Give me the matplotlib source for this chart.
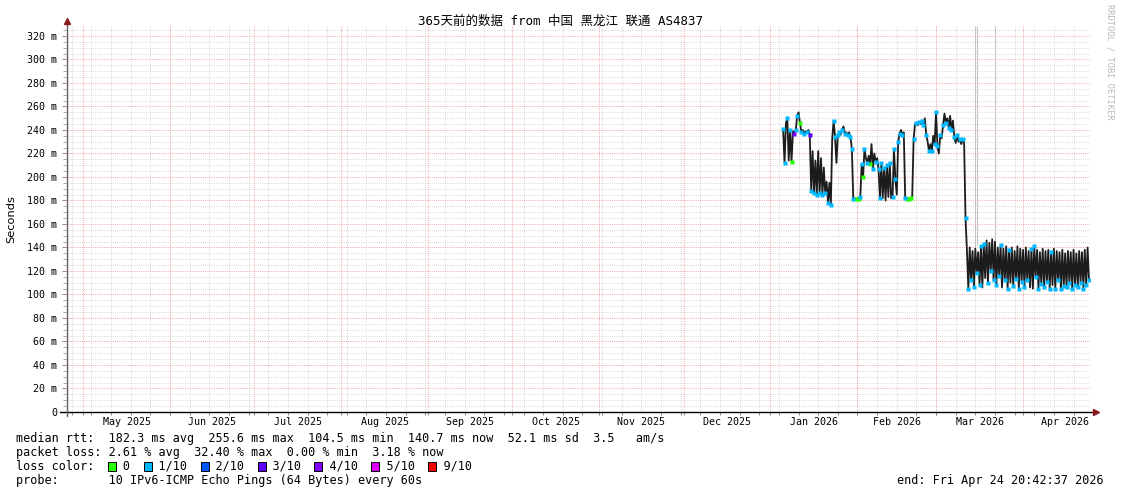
import matplotlib
matplotlib.use("Agg")
import numpy as np
import pandas as pd
import matplotlib.pyplot as plt
from matplotlib.patches import Rectangle

MONO = "DejaVu Sans Mono"
W_PX, H_PX = 1121, 494

graph_start = pd.Timestamp("2025-04-24 20:42:37")
graph_end = pd.Timestamp("2026-04-24 20:42:37")

# median rtt (ms), one reading every 12 h starting here
rtt_first = pd.Timestamp("2026-01-05 12:00")
rtt_step_hours = 12
median_rtt_ms = [
    241, 212, 246, 250, 214, 240, 213, 239, 237, 240,
    252, 255, 246, 238, 240, 237, 239, 238, 240, 236,
    188, 222, 186, 214, 185, 222, 186, 216, 185, 208,
    186, 196, 178, 195, 176, 233, 248, 234, 212, 236,
    238, 236, 240, 243, 237, 238, 236, 238, 234, 224,
    181, 182, 181, 182, 181, 183, 211, 200, 224, 216,
    212, 218, 211, 228, 207, 220, 213, 216, 207, 182,
    212, 182, 208, 180, 210, 183, 212, 182, 183, 224,
    198, 185, 230, 237, 240, 236, 238, 182, 181, 182,
    181, 182, 183, 232, 245, 246, 244, 247, 245, 248,
    244, 250, 236, 230, 222, 228, 222, 235, 228, 255,
    226, 220, 236, 233, 244, 254, 246, 250, 242, 252,
    240, 248, 234, 229, 236, 230, 232, 228, 232, 229,
    165,
    138, 105, 140, 112, 137, 106, 139, 118, 136, 108,
    141, 106, 143, 114, 146, 110, 144, 120, 147, 112,
    145, 108, 140, 116, 142, 106, 139, 112, 141, 105,
    138, 110, 140, 107, 137, 113, 141, 105, 139, 111,
    138, 106, 140, 112, 137, 106, 139, 105, 141, 115,
    138, 105, 136, 109, 139, 106, 137, 111, 138, 105,
    136, 108, 139, 105, 137, 112, 136, 105, 138, 107,
    135, 106, 137, 110, 136, 105, 138, 108, 135, 106,
    137, 110, 136, 105, 138, 108, 140, 112,
]
# loss class per reading: "." none drawn, "0" = 0, "1" = 1/10, "3" = 3/10, "4" = 4/10
loss_code = (
    "11.1.10.41" "1.01.1.1.3" "1.1.1.1.1." "1.1.1.11.1" "1.1.1.1.11"
    "1.0.01101." "1.0.1.1.11" "1.1.1.1.11" "1.11.1.10." "00.1.1.1.1"
    "1.1.1.1.11" "1.1.1.1.1." "1.1.1.1.1." "1"
    ".1.1.1.1.1" "1.1..1.1.1" ".1.11..1.1" "1..1.1.1.1" ".1.1..1.11"
    ".1.1.1.1.1" "1..1.1.1.1" ".1.1.1.1.1" ".1.1.1.1"
)

# smoke columns reaching past the top of the graph
spike_times = ["2026-03-15 00:00", "2026-03-15 14:00", "2026-03-22 00:00"]
spike_low = [140, 142, 146]

loss_labels = ["0", "1/10", "2/10", "3/10", "4/10", "5/10", "9/10"]
loss_colors = ["#26ff00", "#00b8ff", "#0059ff", "#5e00ff", "#7e00ff", "#dd00ff", "#ff0000"]
code_colors = {"0": "#26ff00", "1": "#00b8ff", "3": "#5e00ff", "4": "#7e00ff"}

title = "365天前的数据 from 中国 黑龙江 联通 AS4837"
stats_lines = [
    "median rtt:  182.3 ms avg  255.6 ms max  104.5 ms min  140.7 ms now  52.1 ms sd  3.5   am/s",
    "packet loss: 2.61 % avg  32.40 % max  0.00 % min  3.18 % now",
]
probe_line = "probe:       10 IPv6-ICMP Echo Pings (64 Bytes) every 60s"
end_line = "end: Fri Apr 24 20:42:37 2026"

y_max = 328.5
MINOR = "#d9d9d9"
MAJOR = "#f3aaaa"


def fx(px):
    return px / W_PX


def fy(py):
    return 1 - py / H_PX


fig = plt.figure(figsize=(W_PX / 100, H_PX / 100), dpi=100)
plot_l, plot_r, plot_t, plot_b = 65.8, 1090.0, 26.0, 412.0
ax = fig.add_axes([fx(plot_l), fy(plot_b), (plot_r - plot_l) / W_PX, (plot_b - plot_t) / H_PX])
ax.set_xlim(graph_start, graph_end)
ax.set_ylim(0, y_max)
for s in ax.spines.values():
    s.set_visible(False)

# grid, 1px dotted
grid_kw = dict(lw=0.72, dashes=(1, 1.2))
weeks = pd.date_range("2025-04-27", graph_end, freq="W-SUN")
months = pd.date_range("2025-05-01", "2026-05-01", freq="MS")
for w in weeks:
    ax.axvline(w, color=MINOR, zorder=1, **grid_kw)
for m in months[:-1]:
    ax.axvline(m, color=MAJOR, zorder=2, **grid_kw)
for v in range(5, 330, 5):
    major = v % 20 == 0
    ax.axhline(v, color=MAJOR if major else MINOR, zorder=2 if major else 1, **grid_kw)

# smoke spikes
ax.vlines(pd.to_datetime(spike_times), spike_low, y_max, color="#c4c4c4", lw=0.8, zorder=3)

# median rtt line + loss colours
rtt = np.array(median_rtt_ms, dtype=float)
t = rtt_first + pd.to_timedelta(np.arange(len(rtt)) * rtt_step_hours, unit="h")
ax.plot(t, rtt, color="#1c1c1c", lw=1.3, zorder=4)
for code, color in code_colors.items():
    sel = [i for i, c in enumerate(loss_code[:len(rtt)]) if c == code]
    ax.plot(t[sel], rtt[sel], ls="none", marker="s", ms=2.4, color=color, mec="none", zorder=5)

# axes lines and arrows
ax.plot([-0.0057, 1.0029], [0, 0], transform=ax.transAxes, color="black", lw=1.0,
        clip_on=False, zorder=6)
ax.plot([1.0055], [0], transform=ax.transAxes, marker=">", ms=4, color="#8b1a1a",
        clip_on=False, zorder=6)
ax.plot([0.0012, 0.0012], [-0.0104, 1.005], transform=ax.transAxes, color="#606060",
        lw=1.0, clip_on=False, zorder=6)
ax.plot([0.0012], [1.012], transform=ax.transAxes, marker="^", ms=4, color="#8b1a1a",
        clip_on=False, zorder=6)

# ticks
y_ticks = list(range(0, 321, 20))
ax.set_yticks(y_ticks)
ax.set_yticklabels(["0" if v == 0 else f"{v} m" for v in y_ticks], family=MONO, fontsize=7.2)
ax.set_yticks(range(5, 330, 5), minor=True)
ax.tick_params(axis="y", which="major", length=3, width=0.7, color="#888888", pad=3)
ax.tick_params(axis="y", which="minor", length=2, width=0.7, color="#aaaaaa")

month_mid = [a + (b - a) / 2 for a, b in zip(months[:-1], months[1:])]
ax.set_xticks(month_mid)
ax.set_xticklabels([m.strftime("%b %Y") for m in months[:-1]], family=MONO, fontsize=7.2)
ax.set_xticks(list(weeks) + list(months[:-1]), minor=True)
ax.tick_params(axis="x", which="major", length=0, pad=3.5)
ax.tick_params(axis="x", which="minor", length=2, width=0.7, color="#888888")

# texts
fig.text(fx(560), fy(21), title, ha="center", va="center", fontsize=9,
         family=[MONO, "Noto Sans CJK SC"])
fig.text(fx(11), fy(219), "Seconds", rotation=90, ha="center", va="center",
         fontsize=8.2, family="DejaVu Sans")
fig.text(fx(1110), fy(4), "RRDTOOL / TOBI OETIKER", rotation=270, ha="center", va="top",
         fontsize=6.2, family=MONO, color="#b8b8b8")

fs = 8.5
cw = 0.602 * fs * 100 / 72
x0 = 16
for i, line in enumerate(stats_lines):
    fig.text(fx(x0), fy(438 + 14 * i), line, ha="left", va="center", fontsize=fs, family=MONO)

s = "loss color:  "
box_pos = []
for lab in loss_labels:
    box_pos.append(len(s))
    s += "  " + lab + "  "
fig.text(fx(x0), fy(466), s, ha="left", va="center", fontsize=fs, family=MONO)
for p, c in zip(box_pos, loss_colors):
    bx = x0 + p * cw
    fig.patches.append(Rectangle((fx(bx), fy(470.5)), 8 / W_PX, 9 / H_PX,
                                 transform=fig.transFigure, facecolor=c,
                                 edgecolor="black", lw=0.7))

fig.text(fx(x0), fy(480), probe_line, ha="left", va="center", fontsize=fs, family=MONO)
fig.text(fx(1104), fy(480), end_line, ha="right", va="center", fontsize=fs, family=MONO)

fig.savefig("out.png", dpi=100)
